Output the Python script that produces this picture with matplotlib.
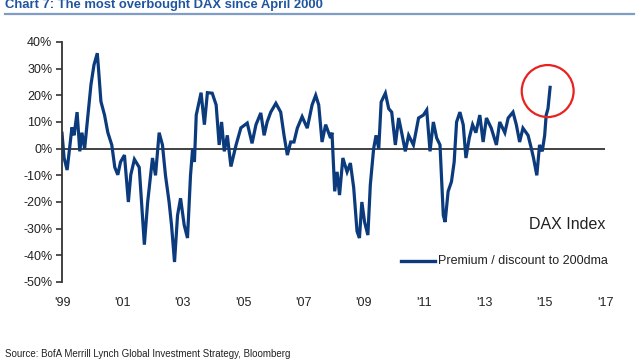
"""DAX premium / discount to 200dma chart"""

import numpy as np
import matplotlib.pyplot as plt
from matplotlib.patches import Ellipse

plt.rcParams['font.family'] = ['Liberation Sans', 'DejaVu Sans']

TITLE = "Chart 7: The most overbought DAX since April 2000"
SOURCE = "Source: BofA Merrill Lynch Global Investment Strategy, Bloomberg"
SERIES_NAME = "Premium / discount to 200dma"
INDEX_NAME = "DAX Index"

# decimal years and premium (%)
years = [
    1999.00, 1999.07, 1999.17, 1999.25, 1999.33, 1999.40, 1999.50, 1999.59,
    1999.66, 1999.75, 1999.86, 1999.96, 2000.06, 2000.17, 2000.21, 2000.29,
    2000.41, 2000.52, 2000.65, 2000.75, 2000.85, 2000.94, 2001.07, 2001.20,
    2001.28, 2001.40, 2001.56, 2001.73, 2001.84, 2002.00, 2002.10, 2002.22,
    2002.33, 2002.43, 2002.55, 2002.63, 2002.73, 2002.83, 2002.93, 2003.05,
    2003.16, 2003.26, 2003.33, 2003.39, 2003.45, 2003.61, 2003.72, 2003.82,
    2003.98, 2004.11, 2004.21, 2004.29, 2004.38, 2004.48, 2004.60, 2004.77,
    2004.93, 2005.14, 2005.30, 2005.43, 2005.59, 2005.70, 2005.80, 2005.92,
    2006.09, 2006.25, 2006.36, 2006.47, 2006.58, 2006.69, 2006.80, 2006.96,
    2007.13, 2007.29, 2007.41, 2007.51, 2007.62, 2007.74, 2007.90, 2007.95,
    2008.04, 2008.12, 2008.20, 2008.31, 2008.45, 2008.56, 2008.67, 2008.78,
    2008.86, 2008.94, 2009.03, 2009.14, 2009.22, 2009.33, 2009.41, 2009.50,
    2009.58, 2009.72, 2009.83, 2009.93, 2010.05, 2010.16, 2010.26, 2010.38,
    2010.49, 2010.65, 2010.82, 2010.98, 2011.09, 2011.20, 2011.31, 2011.42,
    2011.53, 2011.64, 2011.70, 2011.80, 2011.91, 2012.00, 2012.08, 2012.19,
    2012.30, 2012.39, 2012.50, 2012.61, 2012.72, 2012.85, 2012.96, 2013.07,
    2013.23, 2013.40, 2013.51, 2013.68, 2013.79, 2013.95, 2014.06, 2014.17,
    2014.28, 2014.45, 2014.56, 2014.63, 2014.74, 2014.83, 2014.92, 2015.00,
    2015.05, 2015.11, 2015.18,
]
premium = [
    5.8, -3.5, -8.0, 0.0, 8.0, 5.0, 13.7, -1.0,
    6.0, 0.0, 12.6, 24.0, 31.4, 35.8, 30.0, 17.7,
    12.6, 6.0, 1.4, -7.0, -9.8, -5.0, -2.4, -20.0,
    -9.8, -4.0, -7.0, -36.0, -20.0, -3.5, -10.0, 6.0,
    1.4, -10.0, -20.0, -28.6, -42.5, -25.0, -18.6, -28.6,
    -33.5, -10.0, 0.0, -5.0, 12.6, 21.0, 9.0, 21.0,
    20.8, 16.4, 1.4, 10.0, -1.0, 5.0, -6.7, 1.4,
    7.8, 9.6, 2.0, 9.0, 13.4, 5.0, 10.0, 13.7,
    17.0, 13.7, 5.0, -2.4, 2.5, 2.5, 7.7, 12.0,
    7.7, 16.4, 20.0, 16.4, 2.5, 9.0, 4.0, 6.0,
    -16.0, -8.7, -17.4, -3.5, -8.7, -5.4, -14.7, -31.0,
    -33.5, -20.0, -27.5, -32.4, -13.6, 0.0, 5.0, 0.0,
    17.5, 20.8, 15.0, 13.7, 1.4, 11.5, 6.0, -1.0,
    5.0, 1.4, 11.5, 12.6, 14.5, -1.0, 10.0, 4.0,
    1.4, -25.0, -27.5, -16.0, -12.4, -5.0, 10.0, 13.7,
    9.0, -3.5, 4.0, 9.0, 6.0, 12.6, 2.5, 11.5,
    7.7, 1.4, 10.0, 6.0, 11.5, 13.7, 9.0, 2.5,
    7.7, 5.0, 0.0, -3.5, -10.0, 1.4, -1.0, 5.0,
    12.6, 15.0, 23.0,
]

y_ticks = [40, 30, 20, 10, 0, -10, -20, -30, -40, -50]
x_ticks = [1999, 2001, 2003, 2005, 2007, 2009, 2011, 2013, 2015, 2017]
x_labels = ["'99", "'01", "'03", "'05", "'07", "'09", "'11", "'13", "'15", "'17"]

NAVY = '#0c3b7d'
TEXT = '#222222'

fig = plt.figure(figsize=(6.4, 3.6), dpi=100)
ax = fig.add_axes([62 / 640, 1 - 282 / 360, 543 / 640, 240 / 360])

ax.axhline(0, color='#333333', lw=1.3, zorder=1)
ax.plot(years, premium, color=NAVY, lw=2.3, solid_joinstyle='miter', zorder=2)

ax.set_xlim(1999, 2017)
ax.set_ylim(-50, 40)
ax.set_yticks(y_ticks)
ax.set_yticklabels(['%d%%' % v for v in y_ticks])
ax.set_xticks(x_ticks)
ax.set_xticklabels(x_labels)
ax.tick_params(axis='y', length=4, width=1.2, pad=3, colors='#333333',
               labelcolor=TEXT, labelsize=9)
ax.tick_params(axis='x', length=0, pad=11, labelcolor=TEXT, labelsize=9)
for side in ['top', 'right', 'bottom']:
    ax.spines[side].set_visible(False)
ax.spines['left'].set_color('#333333')
ax.spines['left'].set_linewidth(1.3)

# red circle round the latest reading
ax.add_patch(Ellipse((2015.1, 21.6), 1.72, 19.5, fill=False,
                     edgecolor='#e8231f', lw=1.6, zorder=3, clip_on=False))

# index name and legend
ax.text(2017, -28.5, INDEX_NAME, ha='right', va='center', fontsize=11.5,
        color=TEXT)
ax.plot([2010.25, 2011.35], [-42, -42], color=NAVY, lw=2.4, clip_on=False)
ax.text(2011.45, -42, SERIES_NAME, ha='left', va='center', fontsize=9,
        color=TEXT)

# title (cropped at top of image) with underline
fig.text(5 / 640, 1 - 8 / 360, TITLE, ha='left', va='baseline', fontsize=9.4,
         fontweight='bold', color='#1f55a0')
fig.add_artist(plt.Line2D([5 / 640, 634 / 640], [1 - 13.5 / 360, 1 - 13.5 / 360],
                          color='#7f9cc4', lw=1.6))

fig.text(5 / 640, 1 - 349 / 360, SOURCE, ha='left', va='top', fontsize=7,
         color=TEXT)

fig.savefig('out.png', dpi=100)
